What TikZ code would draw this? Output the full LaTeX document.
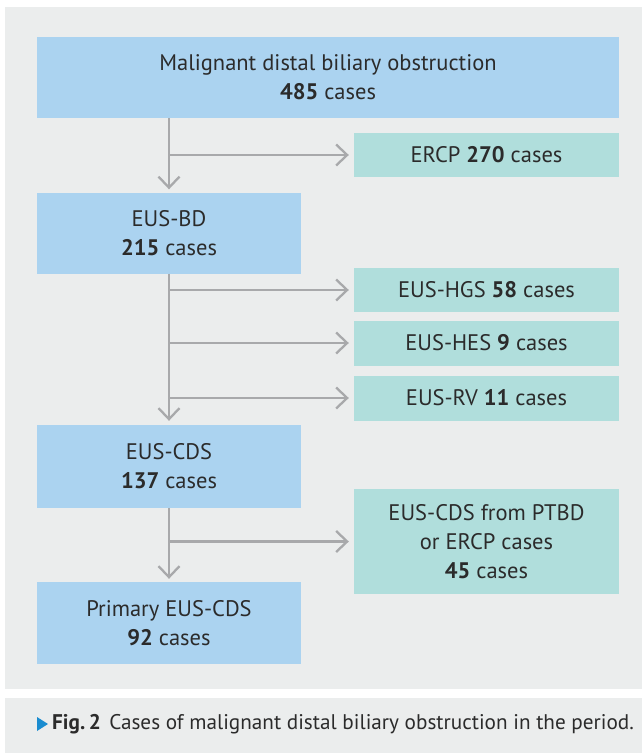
\documentclass[tikz,border=0pt]{standalone}
\usepackage{fontspec}
\setmainfont{PT Sans}
\usetikzlibrary{arrows.meta}
\definecolor{panelgray}{HTML}{EBEDED}
\definecolor{boxblue}{HTML}{ABD3F0}
\definecolor{boxteal}{HTML}{B0DEDC}
\definecolor{arrowgray}{HTML}{A8A9AB}
\definecolor{txt}{HTML}{2B2B2B}
\definecolor{capblue}{HTML}{1A8CD0}
\tikzset{
  box/.style={rectangle, inner sep=0pt, align=center, text=txt,
    font=\fontsize{22.5}{29}\selectfont},
  bluebox/.style={box, fill=boxblue},
  tealbox/.style={box, fill=boxteal},
  flow/.style={draw=arrowgray, line width=2.3pt,
    -{Straight Barb[length=11pt, width=21pt, line width=2.3pt]}},
}
\begin{document}
\begin{tikzpicture}[x=1pt, y=-1pt]
\useasboundingbox (0,0) rectangle (642,753);
\fill[white] (0,0) rectangle (642,753);
\fill[panelgray] (5,7) rectangle (642,689);
\fill[panelgray] (5,698) rectangle (642,753);

\node[bluebox, minimum width=582pt, minimum height=81pt] (top) at (328,77.5)
  {Malignant distal biliary obstruction\\\textbf{485} cases};
\node[tealbox, minimum width=265pt, minimum height=44pt] (ercp) at (486.5,155)
  {ERCP \textbf{270} cases};
\node[bluebox, minimum width=264pt, minimum height=81pt] (bd) at (169,233)
  {EUS-BD\\\textbf{215} cases};
\node[tealbox, minimum width=265pt, minimum height=44pt] (hgs) at (486.5,290)
  {EUS-HGS \textbf{58} cases};
\node[tealbox, minimum width=265pt, minimum height=45pt] (hes) at (486.5,343)
  {EUS-HES \textbf{9} cases};
\node[tealbox, minimum width=265pt, minimum height=45pt] (rv) at (486.5,398)
  {EUS-RV \textbf{11} cases};
\node[bluebox, minimum width=264pt, minimum height=83pt] (cds) at (169,466.5)
  {EUS-CDS\\\textbf{137} cases};
\node[tealbox, minimum width=265pt, minimum height=105pt] (ptbd) at (486.5,541.5)
  {EUS-CDS from PTBD\\or ERCP cases\\\textbf{45} cases};
\node[bluebox, minimum width=264pt, minimum height=82pt] (prim) at (169,623)
  {Primary EUS-CDS\\\textbf{92} cases};

\draw[flow, shorten >=3pt] (bd.north |- top.south) -- (bd.north);
\draw[flow, shorten >=5pt] (bd.north |- ercp.west) -- (ercp.west);
\draw[flow, shorten >=4pt] (bd.south) -- (cds.north);
\draw[flow, shorten >=5pt] (bd.south |- hgs.west) -- (hgs.west);
\draw[flow, shorten >=5pt] (bd.south |- hes.west) -- (hes.west);
\draw[flow, shorten >=5pt] (bd.south |- rv.west) -- (rv.west);
\draw[flow, shorten >=3pt] (cds.south) -- (prim.north);
\draw[flow, shorten >=5pt] (cds.south |- ptbd.west) -- (ptbd.west);

\fill[capblue] (37,717) -- (48,724) -- (37,731) -- cycle;
\node[anchor=west, inner sep=0pt, text=txt, font=\fontsize{21.2}{25}\selectfont] (cap) at (52,724)
  {\textbf{Fig.\,2}\hspace{0.4em}Cases of malignant distal biliary obstruction in the period.};
\end{tikzpicture}
\end{document}
